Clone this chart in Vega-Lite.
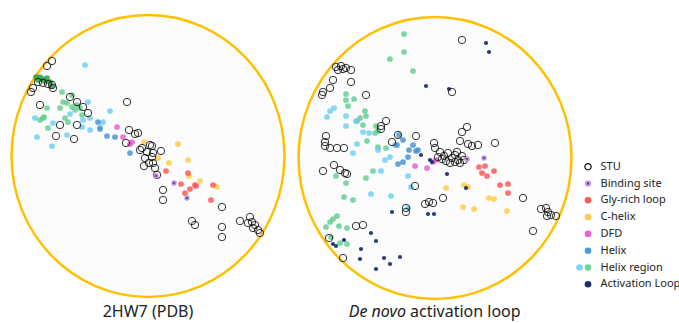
{
  "$schema": "https://vega.github.io/schema/vega-lite/v6.json",
  "padding": 0,
  "spacing": 0,
  "bounds": "flush",
  "background": "white",
  "config": {"view": {"stroke": null}, "font": "Noto Sans"},
  "resolve": {"scale": {"x": "independent", "y": "independent", "color": "independent"}},
  "datasets": {
    "left": [
      {"series":"STU","x":-96,"y":95},{"series":"STU","x":-101,"y":90},{"series":"STU","x":-110,"y":74},{"series":"STU","x":-105,"y":73},{"series":"STU","x":-100,"y":72},{"series":"STU","x":-96,"y":71},{"series":"STU","x":-95,"y":68},{"series":"STU","x":-115,"y":68},{"series":"STU","x":-117,"y":64},{"series":"STU","x":-78,"y":59},{"series":"STU","x":-108,"y":51},{"series":"STU","x":-71,"y":54},{"series":"STU","x":-65,"y":49},{"series":"STU","x":-60,"y":43},{"series":"STU","x":-21,"y":54},{"series":"STU","x":-88,"y":31},{"series":"STU","x":-71,"y":31},{"series":"STU","x":-92,"y":20},{"series":"STU","x":-74,"y":17},{"series":"STU","x":-19,"y":26},{"series":"STU","x":-13,"y":22},{"series":"STU","x":-10,"y":23},{"series":"STU","x":-22,"y":13},{"series":"STU","x":-6,"y":8},{"series":"STU","x":-1,"y":4},{"series":"STU","x":4,"y":10},{"series":"STU","x":13,"y":5},{"series":"STU","x":5,"y":3},{"series":"STU","x":-3,"y":-2},{"series":"STU","x":4,"y":-1},{"series":"STU","x":1,"y":-7},{"series":"STU","x":5,"y":-7},{"series":"STU","x":-4,"y":-10},{"series":"STU","x":7,"y":-12},{"series":"STU","x":9,"y":-19},{"series":"STU","x":2,"y":11},{"series":"STU","x":-8,"y":6},{"series":"STU","x":15,"y":-34},{"series":"STU","x":15,"y":-44},{"series":"STU","x":74,"y":-51},{"series":"STU","x":44,"y":-65},{"series":"STU","x":47,"y":-69},{"series":"STU","x":74,"y":-71},{"series":"STU","x":74,"y":-81},{"series":"STU","x":92,"y":-65},{"series":"STU","x":102,"y":-61},{"series":"STU","x":104,"y":-66},{"series":"STU","x":100,"y":-67},{"series":"STU","x":107,"y":-69},{"series":"STU","x":105,"y":-72},{"series":"STU","x":110,"y":-74},{"series":"STU","x":112,"y":-77},
      {"series":"Helix region (b)","x":-86,"y":64},{"series":"Helix region (b)","x":-76,"y":61},{"series":"Helix region (b)","x":-85,"y":54},{"series":"Helix region (b)","x":-81,"y":53},{"series":"Helix region (b)","x":-88,"y":48},{"series":"Helix region (b)","x":-76,"y":49},{"series":"Helix region (b)","x":-73,"y":46},{"series":"Helix region (b)","x":-101,"y":48},{"series":"Helix region (b)","x":-105,"y":38},{"series":"Helix region (b)","x":-108,"y":36},{"series":"Helix region (b)","x":-100,"y":28},{"series":"Helix region (b)","x":-83,"y":38},{"series":"Helix region (b)","x":-80,"y":34},{"series":"Helix region (b)","x":-71,"y":51},{"series":"Helix region (b)","x":-68,"y":48},{"series":"Helix region (b)","x":-66,"y":41},{"series":"Helix region (b)","x":-104,"y":39},
      {"series":"Helix region (core)","x":-108,"y":79},{"series":"Helix region (core)","x":-105,"y":77},{"series":"Helix region (core)","x":-101,"y":78},{"series":"Helix region (core)","x":-98,"y":74},{"series":"Helix region (core)","x":-103,"y":75},{"series":"Helix region (core)","x":-110,"y":76},{"series":"Helix region (core)","x":-112,"y":79},{"series":"Helix region (core)","x":-96,"y":70},
      {"series":"Helix region (a)","x":-63,"y":91},{"series":"Helix region (a)","x":-60,"y":54},{"series":"Helix region (a)","x":-38,"y":45},{"series":"Helix region (a)","x":-113,"y":38},{"series":"Helix region (a)","x":-95,"y":33},{"series":"Helix region (a)","x":-78,"y":42},{"series":"Helix region (a)","x":-65,"y":36},{"series":"Helix region (a)","x":-58,"y":38},{"series":"Helix region (a)","x":-58,"y":26},{"series":"Helix region (a)","x":-48,"y":29},{"series":"Helix region (a)","x":-111,"y":19},{"series":"Helix region (a)","x":-81,"y":21},{"series":"Helix region (a)","x":-96,"y":10},{"series":"Helix region (a)","x":-66,"y":29},{"series":"Helix region (a)","x":-45,"y":34},
      {"series":"Helix","x":-50,"y":34},{"series":"Helix","x":-48,"y":27},{"series":"Helix","x":-41,"y":20},{"series":"Helix","x":-33,"y":19},{"series":"Helix","x":-18,"y":3},
      {"series":"DFD","x":-31,"y":29},{"series":"DFD","x":-25,"y":19},{"series":"DFD","x":-18,"y":12},{"series":"DFD","x":-16,"y":14},
      {"series":"C-helix","x":-4,"y":14},{"series":"C-helix","x":10,"y":-2},{"series":"C-helix","x":21,"y":-7},{"series":"C-helix","x":30,"y":12},{"series":"C-helix","x":40,"y":-4},{"series":"C-helix","x":41,"y":-20},{"series":"C-helix","x":52,"y":-25},{"series":"C-helix","x":69,"y":-31},
      {"series":"Gly-rich loop","x":18,"y":-15},{"series":"Gly-rich loop","x":40,"y":-17},{"series":"Gly-rich loop","x":33,"y":-28},{"series":"Gly-rich loop","x":42,"y":-33},{"series":"Gly-rich loop","x":47,"y":-29},{"series":"Gly-rich loop","x":37,"y":-37},{"series":"Gly-rich loop","x":65,"y":-29},{"series":"Gly-rich loop","x":63,"y":-44},{"series":"Gly-rich loop","x":48,"y":-30},
      {"series":"Binding site","x":8,"y":-20},{"series":"Binding site","x":26,"y":-27},{"series":"Binding site","x":39,"y":-42}
    ],
    "right": [
      {"series":"STU","x":-99,"y":90},{"series":"STU","x":-94,"y":91},{"series":"STU","x":-89,"y":89},{"series":"STU","x":-84,"y":87},{"series":"STU","x":-97,"y":87},{"series":"STU","x":-92,"y":88},{"series":"STU","x":-102,"y":77},{"series":"STU","x":-84,"y":75},{"series":"STU","x":-105,"y":69},{"series":"STU","x":-112,"y":65},{"series":"STU","x":-113,"y":62},{"series":"STU","x":-69,"y":62},{"series":"STU","x":27,"y":117},{"series":"STU","x":17,"y":65},{"series":"STU","x":-54,"y":31},{"series":"STU","x":-49,"y":36},{"series":"STU","x":-54,"y":28},{"series":"STU","x":-37,"y":22},{"series":"STU","x":-43,"y":15},{"series":"STU","x":-19,"y":21},{"series":"STU","x":-109,"y":21},{"series":"STU","x":-110,"y":15},{"series":"STU","x":-110,"y":11},{"series":"STU","x":-105,"y":9},{"series":"STU","x":-98,"y":9},{"series":"STU","x":-91,"y":9},{"series":"STU","x":-1,"y":14},{"series":"STU","x":0,"y":9},{"series":"STU","x":27,"y":25},{"series":"STU","x":32,"y":30},{"series":"STU","x":25,"y":16},{"series":"STU","x":33,"y":13},{"series":"STU","x":37,"y":11},{"series":"STU","x":43,"y":12},{"series":"STU","x":60,"y":14},{"series":"STU","x":5,"y":5},{"series":"STU","x":9,"y":1},{"series":"STU","x":13,"y":4},{"series":"STU","x":17,"y":-1},{"series":"STU","x":20,"y":2},{"series":"STU","x":23,"y":-3},{"series":"STU","x":27,"y":1},{"series":"STU","x":11,"y":-4},{"series":"STU","x":15,"y":-6},{"series":"STU","x":20,"y":-5},{"series":"STU","x":25,"y":-6},{"series":"STU","x":29,"y":-3},{"series":"STU","x":7,"y":-2},{"series":"STU","x":22,"y":5},{"series":"STU","x":3,"y":0},{"series":"STU","x":-112,"y":-14},{"series":"STU","x":-101,"y":-8},{"series":"STU","x":-95,"y":-13},{"series":"STU","x":-90,"y":-16},{"series":"STU","x":-88,"y":-17},{"series":"STU","x":-20,"y":-29},{"series":"STU","x":8,"y":-41},{"series":"STU","x":-2,"y":-46},{"series":"STU","x":-6,"y":-45},{"series":"STU","x":-10,"y":-47},{"series":"STU","x":-29,"y":-51},{"series":"STU","x":-29,"y":-55},{"series":"STU","x":88,"y":-41},{"series":"STU","x":106,"y":-52},{"series":"STU","x":111,"y":-51},{"series":"STU","x":113,"y":-55},{"series":"STU","x":112,"y":-59},{"series":"STU","x":116,"y":-58},{"series":"STU","x":121,"y":-59},{"series":"STU","x":98,"y":-74},{"series":"STU","x":-79,"y":-69},{"series":"STU","x":-72,"y":-68},{"series":"STU","x":-106,"y":-81},{"series":"STU","x":-92,"y":-101},
      {"series":"Helix region (b)","x":-31,"y":123},{"series":"Helix region (b)","x":-31,"y":105},{"series":"Helix region (b)","x":-45,"y":98},{"series":"Helix region (b)","x":-22,"y":86},{"series":"Helix region (b)","x":-89,"y":63},{"series":"Helix region (b)","x":-81,"y":58},{"series":"Helix region (b)","x":-89,"y":57},{"series":"Helix region (b)","x":-87,"y":51},{"series":"Helix region (b)","x":-70,"y":46},{"series":"Helix region (b)","x":-69,"y":41},{"series":"Helix region (b)","x":-75,"y":39},{"series":"Helix region (b)","x":-78,"y":36},{"series":"Helix region (b)","x":-72,"y":32},{"series":"Helix region (b)","x":-59,"y":31},{"series":"Helix region (b)","x":-57,"y":26},{"series":"Helix region (b)","x":-60,"y":24},{"series":"Helix region (b)","x":-68,"y":16},{"series":"Helix region (b)","x":-57,"y":10},{"series":"Helix region (b)","x":-49,"y":9},{"series":"Helix region (b)","x":-99,"y":-19},{"series":"Helix region (b)","x":-89,"y":-26},{"series":"Helix region (b)","x":-91,"y":-40},{"series":"Helix region (b)","x":-82,"y":-43},{"series":"Helix region (b)","x":-69,"y":-21},{"series":"Helix region (b)","x":-62,"y":-14},{"series":"Helix region (b)","x":-109,"y":-70},{"series":"Helix region (b)","x":-105,"y":-65},{"series":"Helix region (b)","x":-102,"y":-62},{"series":"Helix region (b)","x":-98,"y":-59},{"series":"Helix region (b)","x":-96,"y":-69},{"series":"Helix region (b)","x":-88,"y":-71},{"series":"Helix region (b)","x":-104,"y":-80},{"series":"Helix region (b)","x":-95,"y":-86},{"series":"Helix region (b)","x":-88,"y":-87},
      {"series":"Helix region (a)","x":-101,"y":49},{"series":"Helix region (a)","x":-105,"y":46},{"series":"Helix region (a)","x":-108,"y":40},{"series":"Helix region (a)","x":-89,"y":41},{"series":"Helix region (a)","x":-89,"y":31},{"series":"Helix region (a)","x":-79,"y":36},{"series":"Helix region (a)","x":-72,"y":25},{"series":"Helix region (a)","x":-66,"y":24},{"series":"Helix region (a)","x":-78,"y":13},{"series":"Helix region (a)","x":-82,"y":4},{"series":"Helix region (a)","x":-40,"y":12},{"series":"Helix region (a)","x":-57,"y":7},{"series":"Helix region (a)","x":-50,"y":-3},{"series":"Helix region (a)","x":-45,"y":0},{"series":"Helix region (a)","x":-54,"y":-14},{"series":"Helix region (a)","x":-64,"y":-37},{"series":"Helix region (a)","x":-44,"y":-39},{"series":"Helix region (a)","x":-27,"y":-19},{"series":"Helix region (a)","x":-24,"y":-30},{"series":"Helix region (a)","x":-27,"y":-51},
      {"series":"Helix","x":-36,"y":22},{"series":"Helix","x":-32,"y":17},{"series":"Helix","x":-38,"y":12},{"series":"Helix","x":-22,"y":12},{"series":"Helix","x":-19,"y":6},{"series":"Helix","x":-26,"y":7},{"series":"Helix","x":-27,"y":0},{"series":"Helix","x":-37,"y":-7},{"series":"Helix","x":-32,"y":-5},{"series":"Helix","x":-17,"y":7},
      {"series":"DFD","x":-20,"y":-9},{"series":"DFD","x":-8,"y":-11},{"series":"DFD","x":-2,"y":-5},{"series":"DFD","x":1,"y":-3},
      {"series":"Activation Loop","x":51,"y":114},{"series":"Activation Loop","x":54,"y":105},{"series":"Activation Loop","x":-9,"y":71},{"series":"Activation Loop","x":14,"y":68},{"series":"Activation Loop","x":-14,"y":2},{"series":"Activation Loop","x":-5,"y":-3},{"series":"Activation Loop","x":-3,"y":-5},{"series":"Activation Loop","x":12,"y":-17},{"series":"Activation Loop","x":31,"y":-31},{"series":"Activation Loop","x":-43,"y":-55},{"series":"Activation Loop","x":-7,"y":-57},{"series":"Activation Loop","x":-1,"y":-57},{"series":"Activation Loop","x":-64,"y":-76},{"series":"Activation Loop","x":-59,"y":-84},{"series":"Activation Loop","x":-99,"y":-89},{"series":"Activation Loop","x":-102,"y":-87},{"series":"Activation Loop","x":-91,"y":-83},{"series":"Activation Loop","x":-74,"y":-92},{"series":"Activation Loop","x":-75,"y":-102},{"series":"Activation Loop","x":-51,"y":-101},{"series":"Activation Loop","x":-45,"y":-107},{"series":"Activation Loop","x":-35,"y":-100},{"series":"Activation Loop","x":-59,"y":-112},
      {"series":"Binding site","x":32,"y":-2},{"series":"Binding site","x":49,"y":-1},
      {"series":"Gly-rich loop","x":44,"y":-10},{"series":"Gly-rich loop","x":50,"y":-9},{"series":"Gly-rich loop","x":47,"y":-16},{"series":"Gly-rich loop","x":52,"y":-19},{"series":"Gly-rich loop","x":59,"y":-14},{"series":"Gly-rich loop","x":65,"y":-28},{"series":"Gly-rich loop","x":73,"y":-27},{"series":"Gly-rich loop","x":73,"y":-36},
      {"series":"C-helix","x":11,"y":-31},{"series":"C-helix","x":29,"y":-28},{"series":"C-helix","x":33,"y":-30},{"series":"C-helix","x":28,"y":-50},{"series":"C-helix","x":39,"y":-52},{"series":"C-helix","x":54,"y":-41},{"series":"C-helix","x":59,"y":-42},{"series":"C-helix","x":72,"y":-54}
    ],
    "legend": [
      {"item":"STU"},{"item":"Binding site"},{"item":"Gly-rich loop"},{"item":"C-helix"},{"item":"DFD"},{"item":"Helix"},{"item":"Helix region"},{"item":"Activation Loop"}
    ]
  },
  "hconcat": [
    {
      "width": 292, "height": 323,
      "data": {"name": "left"},
      "encoding": {
        "x": {"field": "x", "type": "quantitative", "scale": {"domain": [-148, 144], "nice": false, "zero": false}, "axis": null},
        "y": {"field": "y", "type": "quantitative", "scale": {"domain": [-167, 156], "nice": false, "zero": false}, "axis": null}
      },
      "layer": [
        {"data": {"values": [{"x": 0, "y": 0}]}, "mark": {"type": "point", "shape": "M-0.968,0A0.968,1,0,1,0,0.968,0A0.968,1,0,1,0,-0.968,0Z", "size": 79524, "filled": true, "fill": "#fcfcfc", "stroke": "#FFC000", "strokeWidth": 2.5, "opacity": 1, "fillOpacity": 1, "strokeOpacity": 1}},
        {"transform": [{"filter": "datum.series != 'STU' && datum.series != 'Binding site' && datum.series != 'Activation Loop'"}],
         "mark": {"type": "circle", "size": 33, "opacity": 0.8},
         "encoding": {"color": {"field": "series", "type": "nominal", "legend": null, "scale": {"domain": ["Gly-rich loop","C-helix","DFD","Helix","Helix region (a)","Helix region (b)","Helix region (core)"], "range": ["#FF4F4F","#FFC83D","#E957C9","#3F8FD3","#66CDF4","#5FCB8D","#1F9C48"]}}}},
        {"transform": [{"filter": "datum.series == 'STU'"}], "mark": {"type": "point", "shape": "circle", "size": 55, "filled": false, "stroke": "#111111", "strokeWidth": 1, "opacity": 0.85}},
        {"transform": [{"filter": "datum.series == 'Binding site'"}], "mark": {"type": "point", "shape": "circle", "size": 14, "filled": true, "fill": "#6A2C9E", "stroke": "#b894e2", "strokeWidth": 1.6, "opacity": 1}},
        {"data": {"values": [{"x": 0, "y": -156, "label": "2HW7 (PDB)"}]}, "mark": {"type": "text", "fontSize": 16, "font": "Noto Sans", "color": "#222222"}, "encoding": {"text": {"field": "label"}}}
      ]
    },
    {
      "width": 287, "height": 323,
      "data": {"name": "right"},
      "encoding": {
        "x": {"field": "x", "type": "quantitative", "scale": {"domain": [-143, 144], "nice": false, "zero": false}, "axis": null},
        "y": {"field": "y", "type": "quantitative", "scale": {"domain": [-166, 157], "nice": false, "zero": false}, "axis": null}
      },
      "layer": [
        {"data": {"values": [{"x": 0, "y": -1}]}, "mark": {"type": "point", "shape": "M-0.968,0A0.968,1,0,1,0,0.968,0A0.968,1,0,1,0,-0.968,0Z", "size": 79524, "filled": true, "fill": "#fcfcfc", "stroke": "#FFC000", "strokeWidth": 2.5, "opacity": 1, "fillOpacity": 1, "strokeOpacity": 1}},
        {"transform": [{"filter": "datum.series != 'STU' && datum.series != 'Binding site' && datum.series != 'Activation Loop'"}],
         "mark": {"type": "circle", "size": 33, "opacity": 0.8},
         "encoding": {"color": {"field": "series", "type": "nominal", "legend": null, "scale": {"domain": ["Gly-rich loop","C-helix","DFD","Helix","Helix region (a)","Helix region (b)","Helix region (core)"], "range": ["#FF4F4F","#FFC83D","#E957C9","#3F8FD3","#66CDF4","#5FCB8D","#1F9C48"]}}}},
        {"transform": [{"filter": "datum.series == 'Activation Loop'"}], "mark": {"type": "circle", "size": 18, "color": "#1E3272", "opacity": 0.95}},
        {"transform": [{"filter": "datum.series == 'STU'"}], "mark": {"type": "point", "shape": "circle", "size": 55, "filled": false, "stroke": "#111111", "strokeWidth": 1, "opacity": 0.85}},
        {"transform": [{"filter": "datum.series == 'Binding site'"}], "mark": {"type": "point", "shape": "circle", "size": 14, "filled": true, "fill": "#6A2C9E", "stroke": "#b894e2", "strokeWidth": 1.6, "opacity": 1}},
        {"data": {"values": [{"x": -29, "y": -155, "label": "De novo"}]}, "mark": {"type": "text", "fontSize": 16, "font": "Noto Sans", "fontStyle": "italic", "align": "right", "color": "#222222"}, "encoding": {"text": {"field": "label"}}},
        {"data": {"values": [{"x": -25, "y": -155, "label": "activation loop"}]}, "mark": {"type": "text", "fontSize": 16, "font": "Noto Sans", "align": "left", "color": "#222222"}, "encoding": {"text": {"field": "label"}}}
      ]
    },
    {
      "width": 100, "height": 323,
      "data": {"name": "legend"},
      "encoding": {
        "y": {"field": "item", "type": "nominal", "axis": null, "scale": {"type": "point", "domain": ["STU","Binding site","Gly-rich loop","C-helix","DFD","Helix","Helix region","Activation Loop"], "range": [158.3, 292.7]}}
      },
      "layer": [
        {"mark": {"type": "text", "align": "left", "xOffset": -28.5, "fontSize": 11, "font": "Noto Sans", "color": "#222222"}, "encoding": {"text": {"field": "item"}}},
        {"transform": [{"filter": "datum.item == 'STU'"}], "mark": {"type": "point", "shape": "circle", "xOffset": -41, "size": 40, "filled": false, "stroke": "#111111", "strokeWidth": 1.2, "opacity": 1}},
        {"transform": [{"filter": "datum.item == 'Binding site'"}], "mark": {"type": "point", "shape": "circle", "xOffset": -41, "size": 20, "filled": true, "fill": "#6A2C9E", "stroke": "#c4a3ea", "strokeWidth": 2, "opacity": 1}},
        {"transform": [{"filter": "datum.item == 'Helix region'"}], "mark": {"type": "circle", "xOffset": -49.5, "size": 44, "color": "#7FD3F7", "opacity": 1}},
        {"transform": [{"filter": "datum.item != 'STU' && datum.item != 'Binding site'"}], "mark": {"type": "circle", "xOffset": -41, "size": 44, "opacity": 1},
         "encoding": {"color": {"field": "item", "type": "nominal", "legend": null, "scale": {"domain": ["Gly-rich loop","C-helix","DFD","Helix","Helix region","Activation Loop"], "range": ["#FF5A5A","#FFCC44","#EE5FD0","#4C9BD8","#6BD69A","#1B2F6A"]}}}}
      ]
    }
  ]
}
